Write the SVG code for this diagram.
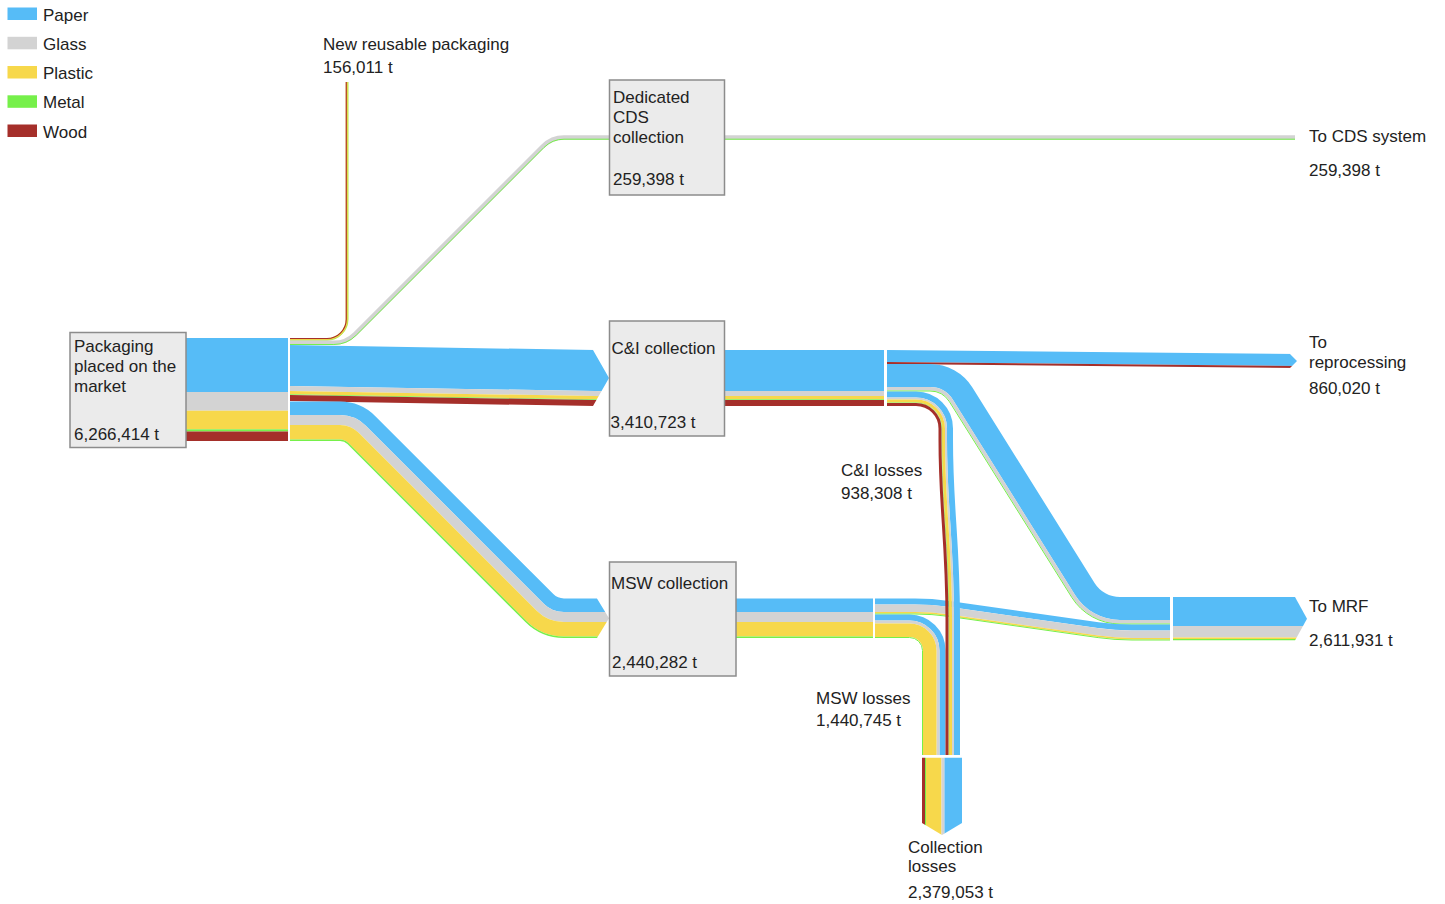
<svg xmlns="http://www.w3.org/2000/svg" width="1445" height="904" viewBox="0 0 1445 904">
<style>
text{font-family:"Liberation Sans",Arial,Helvetica,sans-serif;font-size:17px;fill:#222}
.box{fill:#ebebeb;stroke:#8c8c8c;stroke-width:1.5}
.f-paper{fill:#56bcf7}.f-glass{fill:#d3d3d3}.f-plastic{fill:#f7d84b}.f-metal{fill:#76f04a}.f-wood{fill:#a52f2a}
.s{fill:none;stroke-linejoin:round}
.s-paper{stroke:#56bcf7}.s-glass{stroke:#d3d3d3}.s-plastic{stroke:#f7d84b}.s-metal{stroke:#76f04a}.s-wood{stroke:#a52f2a}
</style>
<defs>
<clipPath id="clip-ci-in"><polygon points="0,0 593,0 593,350 609,378 593,406 593,904 0,904"/></clipPath>
<clipPath id="clip-msw-in"><polygon points="0,0 597,0 597,598.5 609,618.25 597,638 597,904 0,904"/></clipPath>
<clipPath id="clip-repro"><polygon points="0,0 1290,0 1290,354 1297,361 1290,368 1290,904 0,904"/></clipPath>
<clipPath id="clip-mrf"><polygon points="1173,597 1295,597 1307,618.75 1295,640.5 1173,640.5"/></clipPath>
<clipPath id="clip-losses"><polygon points="922,757.5 962,757.5 962,823 942,835 922,823"/></clipPath>
</defs>
<rect width="1445" height="904" fill="#fff"/>

<g id="legend">
<rect class="f-paper" x="7.5" y="7.5" width="29.5" height="12.5"/><text x="43" y="20.5">Paper</text>
<rect class="f-glass" x="7.5" y="36.8" width="29.5" height="12.5"/><text x="43" y="49.8">Glass</text>
<rect class="f-plastic" x="7.5" y="66" width="29.5" height="12.5"/><text x="43" y="79">Plastic</text>
<rect class="f-metal" x="7.5" y="95.3" width="29.5" height="12.5"/><text x="43" y="108.3">Metal</text>
<rect class="f-wood" x="7.5" y="124.5" width="29.5" height="12.5"/><text x="43" y="137.5">Wood</text>
</g>

<g id="connectors">
<!-- material leaving the market node -->
<g id="flow-market">
<rect class="f-paper" x="186" y="338" width="102" height="54"/>
<rect class="f-glass" x="186" y="392" width="102" height="18.7"/>
<rect class="f-plastic" x="186" y="410.7" width="102" height="18.6"/>
<rect class="f-metal" x="186" y="429.3" width="102" height="2.2"/>
<rect class="f-wood" x="186" y="431.5" width="102" height="9.5"/>
</g>

<g id="link-reusable">
<path class="s s-plastic" stroke-width="2.6" d="M290,339.3 H327 A20 20 0 0 0 347,319.3 V82"/>
<path class="s s-wood" stroke-width="1.1" d="M290,338.55 H327 A19.25 19.25 0 0 0 346.25,319.3 V82"/>
<path class="s s-metal" stroke-width="0.5" d="M290,340.35 H327 A21.05 21.05 0 0 0 348.05,319.3 V82"/>
</g>

<g id="link-cds">
<path class="s s-glass" stroke-width="4.4" d="M290,342.8 H333.8 A30 30 0 0 0 355,334 L542.8,146.3 A30 30 0 0 1 564,137.5 H610"/>
<path class="s s-metal" stroke-width="1" d="M290,344.5 H333.8 A31.7 31.7 0 0 0 356.22,335.22 L543.99,147.49 A28.3 28.3 0 0 1 564,139.2 H610"/>
<path class="s s-glass" stroke-width="4.4" d="M724.5,137.5 H1295"/>
<path class="s s-metal" stroke-width="1" d="M724.5,139.2 H1295"/>
</g>

<g id="link-ci-in" clip-path="url(#clip-ci-in)">
<polygon class="f-paper" points="290,345 610,350.28 610,391.28 290,386"/>
<polygon class="f-glass" points="290,386 610,391.28 610,396.28 290,391"/>
<polygon class="f-plastic" points="290,391 610,396.28 610,399.58 290,394.3"/>
<polygon class="f-metal" points="290,394.3 610,399.58 610,400.28 290,395"/>
<polygon class="f-wood" points="290,395 610,400.28 610,406.28 290,401"/>
</g>

<g id="link-msw-in" clip-path="url(#clip-msw-in)">
<path class="s s-paper" stroke-width="13.5" d="M290,408.25 H340 A43.25 43.25 0 0 1 370.58,420.92 L548.54,598.88 A21.75 21.75 0 0 0 563.92,605.25 H612"/>
<path class="s s-glass" stroke-width="10" d="M290,420 H340 A31.5 31.5 0 0 1 362.27,429.23 L540.23,607.19 A33.5 33.5 0 0 0 563.92,617 H612"/>
<path class="s s-plastic" stroke-width="14.5" d="M290,432.25 H340 A19.25 19.25 0 0 1 353.61,437.89 L531.57,615.85 A45.75 45.75 0 0 0 563.92,629.25 H612"/>
<path class="s s-metal" stroke-width="1.5" d="M290,440.25 H340 A11.25 11.25 0 0 1 347.95,443.55 L525.91,621.51 A53.75 53.75 0 0 0 563.92,637.25 H612"/>
</g>

<g id="flow-ci-out">
<rect class="f-paper" x="724.5" y="350" width="159.5" height="41"/>
<rect class="f-glass" x="724.5" y="391" width="159.5" height="5"/>
<rect class="f-plastic" x="724.5" y="396" width="159.5" height="3.3"/>
<rect class="f-metal" x="724.5" y="399.3" width="159.5" height="0.7"/>
<rect class="f-wood" x="724.5" y="400" width="159.5" height="6"/>
</g>

<g id="flow-msw-out">
<rect class="f-paper" x="736" y="598.5" width="137" height="13.5"/>
<rect class="f-glass" x="736" y="612" width="137" height="10"/>
<rect class="f-plastic" x="736" y="622" width="137" height="14.5"/>
<rect class="f-metal" x="736" y="636.5" width="137" height="1.5"/>
</g>

<g id="link-reprocessing" clip-path="url(#clip-repro)">
<polygon class="f-paper" points="887,350 1298,354.08 1298,366.08 887,362"/>
<polygon class="f-wood" points="887,362 1298,366.08 1298,368.08 887,364"/>
</g>

<g id="link-ci-mrf">
<path class="s s-paper" stroke-width="23" d="M887,375.5 H930 A38.5 38.5 0 0 1 962.65,393.6 L1084.81,588.99 A41.5 41.5 0 0 0 1120,608.5 H1170"/>
<path class="s s-glass" stroke-width="3.5" d="M887,388.75 H930 A25.25 25.25 0 0 1 951.41,400.62 L1073.57,596.01 A54.75 54.75 0 0 0 1120,621.75 H1170"/>
<path class="s s-metal" stroke-width="1" d="M887,391 H930 A23 23 0 0 1 949.5,401.81 L1071.66,597.2 A57 57 0 0 0 1120,624 H1170"/>
</g>

<g id="link-msw-mrf">
<path class="s s-paper" stroke-width="6" d="M875,601.5 H915 Q932,601.5 948.83,603.89 L1098.17,625.11 Q1115,627.5 1132,627.5 H1170"/>
<path class="s s-glass" stroke-width="7.5" d="M875,608.25 H915 Q932,608.25 948.83,610.64 L1098.17,631.86 Q1115,634.25 1132,634.25 H1170"/>
<path class="s s-plastic" stroke-width="1.5" d="M875,612.75 H915 Q932,612.75 948.83,615.14 L1098.17,636.36 Q1115,638.75 1132,638.75 H1170"/>
<path class="s s-metal" stroke-width="1" d="M875,614 H915 Q932,614 948.83,616.39 L1098.17,637.61 Q1115,640 1132,640 H1170"/>
</g>

<g id="link-msw-losses">
<path class="s s-paper" stroke-width="6" d="M875,617.5 H909.5 A33 33 0 0 1 942.5,650.5 V755"/>
<path class="s s-glass" stroke-width="3" d="M875,622 H909.5 A28.5 28.5 0 0 1 938,650.5 V755"/>
<path class="s s-plastic" stroke-width="13.5" d="M875,630.25 H909.5 A20.25 20.25 0 0 1 929.75,650.5 V755"/>
<path class="s s-metal" stroke-width="1" d="M875,637.5 H909.5 A13 13 0 0 1 922.5,650.5 V755"/>
</g>

<g id="link-ci-losses">
<path class="s s-paper" stroke-width="6" d="M887,394.5 H916 A34 34 0 0 1 950,428.5 V440 C950,510 957,540 957,620 V755"/>
<path class="s s-glass" stroke-width="2" d="M887,398.5 H916 A30 30 0 0 1 946,428.5 V440 C946,510 953,540 953,620 V755"/>
<path class="s s-plastic" stroke-width="3" d="M887,401 H916 A27.5 27.5 0 0 1 943.5,428.5 V440 C943.5,510 950.5,540 950.5,620 V755"/>
<path class="s s-metal" stroke-width="0.6" d="M887,402.75 H916 A25.75 25.75 0 0 1 941.75,428.5 V440 C941.75,510 948.75,540 948.75,620 V755"/>
<path class="s s-wood" stroke-width="3" d="M887,404.5 H916 A24 24 0 0 1 940,428.5 V440 C940,510 947,540 947,620 V755"/>
</g>

<g id="flow-mrf" clip-path="url(#clip-mrf)">
<rect class="f-paper" x="1173" y="597" width="135" height="29"/>
<rect class="f-glass" x="1173" y="626" width="135" height="11.5"/>
<rect class="f-plastic" x="1173" y="637.5" width="135" height="1.5"/>
<rect class="f-metal" x="1173" y="639" width="135" height="1.5"/>
</g>

<g id="flow-collection-losses" clip-path="url(#clip-losses)">
<rect class="f-wood" x="922" y="757.5" width="3" height="80"/>
<rect class="f-metal" x="925" y="757.5" width="1" height="80"/>
<rect class="f-plastic" x="926" y="757.5" width="15.5" height="80"/>
<rect class="f-glass" x="941.5" y="757.5" width="3" height="80"/>
<rect class="f-paper" x="944.5" y="757.5" width="17.5" height="80"/>
</g>
</g>

<g id="node-market">
<rect class="box" x="70" y="332.5" width="116" height="115"/>
<text x="74" y="352">Packaging</text>
<text x="74" y="372">placed on the</text>
<text x="74" y="392">market</text>
<text x="74" y="440">6,266,414 t</text>
</g>

<g id="node-cds">
<rect class="box" x="609.5" y="80" width="115" height="115"/>
<text x="613" y="102.5">Dedicated</text>
<text x="613" y="122.5">CDS</text>
<text x="613" y="142.5">collection</text>
<text x="613" y="185">259,398 t</text>
</g>

<g id="node-ci">
<rect class="box" x="609.5" y="321" width="115" height="115"/>
<text x="611.5" y="353.5">C&amp;I collection</text>
<text x="610.5" y="428">3,410,723 t</text>
</g>

<g id="node-msw">
<rect class="box" x="609.5" y="562" width="126.5" height="114"/>
<text x="611" y="589">MSW collection</text>
<text x="612" y="668">2,440,282 t</text>
</g>

<g id="node-reusable">
<text x="323" y="50">New reusable packaging</text>
<text x="323" y="73">156,011 t</text>
</g>

<g id="node-to-cds">
<text x="1309" y="142">To CDS system</text>
<text x="1309" y="176">259,398 t</text>
</g>

<g id="node-reprocessing">
<text x="1309" y="348">To</text>
<text x="1309" y="368">reprocessing</text>
<text x="1309" y="394">860,020 t</text>
</g>

<g id="node-mrf">
<text x="1309" y="612">To MRF</text>
<text x="1309" y="646">2,611,931 t</text>
</g>

<g id="node-ci-losses">
<text x="841" y="476">C&amp;I losses</text>
<text x="841" y="499">938,308 t</text>
</g>

<g id="node-msw-losses">
<text x="816" y="704">MSW losses</text>
<text x="816" y="726">1,440,745 t</text>
</g>

<g id="node-collection-losses">
<text x="908" y="853">Collection</text>
<text x="908" y="872">losses</text>
<text x="908" y="898">2,379,053 t</text>
</g>
</svg>
